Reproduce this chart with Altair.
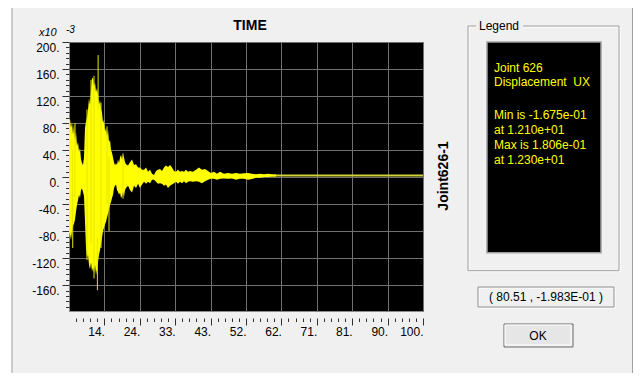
import altair as alt
import pandas as pd

# ---------------- data (displacement in 1e-3) ----------------
T_MIN, T_MAX = 4.44, 100.0
Y_MIN, Y_MAX = -198.3, 200.0

sig_t = [4.44, 4.71, 4.98, 5.25, 5.52, 5.79, 6.06, 6.33, 6.60, 6.87, 7.14, 7.41, 7.68, 7.95,
         8.22, 8.49, 8.76, 9.03, 9.30, 9.57, 9.84, 10.11, 10.38, 10.65, 10.92, 11.19, 11.46,
         11.73, 12.00, 12.27, 12.54, 12.81, 13.08, 13.35, 13.62, 13.89, 14.16, 14.43, 14.70,
         14.97, 15.24, 15.51, 15.78, 16.05, 16.32, 16.59, 16.86, 17.13, 17.40, 17.67, 17.94,
         18.21, 18.48, 18.75, 19.02, 19.29, 19.56, 19.83,
         20.37, 20.91, 21.45, 21.99, 22.53, 23.07, 23.61, 24.15, 24.69, 25.23, 25.77, 26.31,
         26.85, 27.39, 27.93,
         28.46, 29.00, 29.54, 30.08, 30.62, 31.16, 31.70, 32.24, 32.78, 33.32, 33.86, 34.40,
         34.94, 35.48, 36.02, 36.56, 37.10,
         37.91, 38.72, 39.53, 40.34, 41.15, 41.96,
         42.77, 43.58, 44.39, 45.20,
         46.28, 47.36, 48.44, 49.52, 50.60, 51.68, 52.76, 53.84, 54.92, 56.00, 57.08, 58.16,
         59.24, 60.32]
sig_hi = [85, 86, 73, 82, 63, 79, 55, 67, 46, 52, 37, 43, 26, 21, 18, 29, 73, 82, 88, 99, 117,
          107, 129, 146, 147, 135, 140, 126, 132, 122, 107, 114, 100, 96, 80, 85, 67, 73, 61, 70,
          52, 55, 40, 36, 29, 22, 17, 21, 18, 26, 21, 29, 33, 26, 33, 29, 22, 19,
          17, 22, 26, 18, 19, 14, 14, 11, 11, 14, 8, 11, 5, 3, 9,
          11, 12, 9, 14, 17, 15, 18, 14, 9, 8, 11, 8, 9, 8, 11, 8, 9,
          8, 11, 14, 11, 12, 9,
          6, 8, 5, 8,
          5, 6, 5, 6, 5, 5.5, 6, 5, 4, 5, 4, 5, 4, 4]
sig_lo = [-82, -85, -93, -80, -72, -69, -63, -51, -41, -34, -26, -31, -19, -17, -22, -28, -66,
          -105, -119, -115, -130, -137, -126, -140, -134, -142, -130, -145, -137, -126, -115,
          -108, -100, -90, -80, -75, -70, -66, -60, -54, -48, -41, -37, -31, -26, -16, -13, -11,
          -19, -22, -26, -23, -31, -28, -22, -29, -19, -16,
          -13, -19, -23, -13, -16, -10, -16, -11, -7, -10, -7, -9, -4, -4, -7,
          -10, -9, -10, -13, -11, -16, -13, -11, -9, -7, -10, -7, -9, -6, -9, -7, -6,
          -7, -6, -7, -9, -6, -4,
          -2.5, -2.5, -4, -2.5,
          -2, -2.5, -2, -4, -2.5, -2.5, -4, -3, -1, -1, 0, 0, 0.5, 0.5]

spike_t = [5.44, 6.06, 9.30, 10.38, 11.19, 12.10, 12.30, 13.08, 14.70, 15.24, 19.02]
spike_hi = [40, 80, 100, 144, 150, -90, 180.6, 110, 75, 30, 35]
spike_lo = [-105, -30, -123, -100, -150, -167.5, 100, -105, -40, -80, -32]

tail_t = [60.32, 100.0]
tail_v = [2.4, 2.4]

x_major = [14.0, 23.556, 33.111, 42.667, 52.222, 61.778, 71.333, 80.889, 90.444, 100.0]
y_major = [200, 160, 120, 80, 40, 0, -40, -80, -120, -160]

legend_head = ["Joint 626", "Displacement\u00a0 UX"]
legend_stats = ["Min is -1.675e-01", "at 1.210e+01", "Max is 1.806e-01", "at 1.230e+01"]
title_text = "TIME"
side_text = "Joint626-1"
coord_text = "( 80.51 , -1.983E-01 )"
button_text = "OK"

# minor tick positions (axis decoration)
step_x = (x_major[1] - x_major[0]) / 5
x_minor = [x_major[0] - k * step_x for k in range(1, 5)]
for i in range(len(x_major) - 1):
    x_minor += [x_major[i] + k * step_x for k in range(1, 5)]
y_minor = [v for v in range(-192, 201, 8) if v % 40 != 0]

sig_df = pd.DataFrame({"t": sig_t, "hi": sig_hi, "lo": sig_lo})
spike_df = pd.DataFrame({"t": spike_t, "hi": spike_hi, "lo": spike_lo})
tail_df = pd.DataFrame({"t": tail_t, "v": tail_v})
one = pd.DataFrame({"k": [0]})

FONT = "Liberation Sans"


def xs():
    return alt.Scale(domain=[T_MIN, T_MAX], nice=False, zero=False)


def ys():
    return alt.Scale(domain=[Y_MIN, Y_MAX], nice=False, zero=False)


grid_x = alt.Axis(values=x_major, orient="bottom", grid=True, gridColor="#707070", gridWidth=1,
                  ticks=False, labels=False, domain=False, title=None)
grid_y = alt.Axis(values=y_major, orient="left", grid=True, gridColor="#707070", gridWidth=1,
                  ticks=False, labels=False, domain=False, title=None)

major_x = alt.Axis(values=x_major, orient="bottom", offset=7, tickSize=7, tickColor="#303030",
                   domain=False, grid=False, labelExpr="round(datum.value) + '.'",
                   labelAlign="right", labelBaseline="top", labelPadding=1, labelFont=FONT,
                   labelFontSize=12, labelColor="black", labelFlush=False, labelOverlap=False,
                   title=None)
major_y = alt.Axis(values=y_major, orient="left", tickSize=7, tickColor="#303030",
                   domain=False, grid=False, labelExpr="datum.value + '.'",
                   labelAlign="right", labelBaseline="top", labelPadding=3, labelFont=FONT,
                   labelFontSize=12, labelColor="black", labelFlush=False, labelOverlap=False,
                   title=None)
minor_x = alt.Axis(values=x_minor, orient="bottom", offset=7, tickSize=3.5, tickColor="#303030",
                   domain=False, grid=False, labels=False, title=None)
minor_y = alt.Axis(values=y_minor, orient="left", tickSize=3.5, tickColor="#303030",
                   domain=False, grid=False, labels=False, title=None)

area = alt.Chart(sig_df).mark_area(color="#ffff00", opacity=1).encode(
    x=alt.X("t:Q", scale=xs(), axis=grid_x),
    y=alt.Y("hi:Q", scale=ys(), axis=grid_y),
    y2="lo:Q",
)
spikes = alt.Chart(spike_df).mark_rule(color="#e6e600", strokeWidth=1).encode(
    x=alt.X("t:Q", scale=xs(), axis=minor_x),
    y=alt.Y("hi:Q", scale=ys(), axis=minor_y),
    y2="lo:Q",
)
tail = alt.Chart(tail_df).mark_line(color="#d2d23c", strokeWidth=2).encode(
    x=alt.X("t:Q", scale=xs(), axis=major_x),
    y=alt.Y("v:Q", scale=ys(), axis=major_y),
)


def rect(x1, x2, y1, y2, fill=None, stroke=None, sw=1):
    kw = {}
    if fill is not None:
        kw["fill"] = fill
    else:
        kw["fillOpacity"] = 0
    if stroke is not None:
        kw["stroke"] = stroke
        kw["strokeWidth"] = sw
    return alt.Chart(one).mark_rect(**kw).encode(
        x=alt.value(x1), x2=alt.value(x2), y=alt.value(y1), y2=alt.value(y2))


def rule(x1, x2, y1, y2, color, sw=1):
    return alt.Chart(one).mark_rule(color=color, strokeWidth=sw).encode(
        x=alt.value(x1), x2=alt.value(x2), y=alt.value(y1), y2=alt.value(y2))


def text(t, x, y, size=12, weight="normal", style="normal", color="black", align="left",
         baseline="middle", angle=0, **extra):
    return alt.Chart(one).mark_text(
        text=t, font=FONT, fontSize=size, fontWeight=weight, fontStyle=style, color=color,
        align=align, baseline=baseline, angle=angle, **extra
    ).encode(x=alt.value(x), y=alt.value(y))


# plot-area coordinates: page x - 69, page y - 42
deco = [
    rect(-62, -57.5, -40, 340, fill="white"),
    rule(-57, -57, -40, 340, "#a0a0a0"),
    rule(563.5, 563.5, -40, 340, "#a0a0a0"),
    # legend group box (etched)
    rect(400, 551, -15, 229.7, stroke="white"),
    rect(399, 550, -16, 228.7, stroke="#a0a0a0"),
    rect(407, 454, -22, -10, fill="#f0f0f0"),
    text("Legend", 410, -16),
    # black legend panel
    rect(418, 532, 0, 210.7, fill="black", stroke="#a0a0a0", sw=1.5),
    text(legend_head, 425, 29.5, color="#ffff00", baseline="alphabetic", lineHeight=14.5),
    text(legend_stats, 425, 77, color="#ffff00", baseline="alphabetic", lineHeight=15),
    # coordinate read-out box (sunken)
    rect(410, 546, 246, 266, stroke="white"),
    rect(409, 545, 245, 265, stroke="#909090"),
    text(coord_text, 477, 255, align="center"),
    # OK button (raised)
    rect(435, 504, 282, 305, fill="#e6e6e6", stroke="#6a6a6a"),
    rect(436, 502, 283, 303, stroke="#ffffff"),
    text(button_text, 469, 293.5, align="center"),
    # titles
    text(title_text, 181, -16, size=14, weight="bold", align="center"),
    text("x10", -30, -9, size=11, style="italic"),
    text("-3", -3, -12, size=10, style="italic"),
    text(side_text, 375, 134, size=14, weight="bold", align="center", angle=270),
]

chart = alt.layer(area, spikes, tail, *deco).resolve_scale(
    x="independent", y="independent"
).resolve_axis(x="independent", y="independent").properties(
    width=354, height=269, autosize="none",
    padding={"left": 61, "top": 34, "right": 210, "bottom": 62},
    background="#f0f0f0",
).configure_view(fill="black", stroke="#8c8c8c", strokeWidth=1)

chart.save("out.html", embed_options={"renderer": "svg", "actions": False})
